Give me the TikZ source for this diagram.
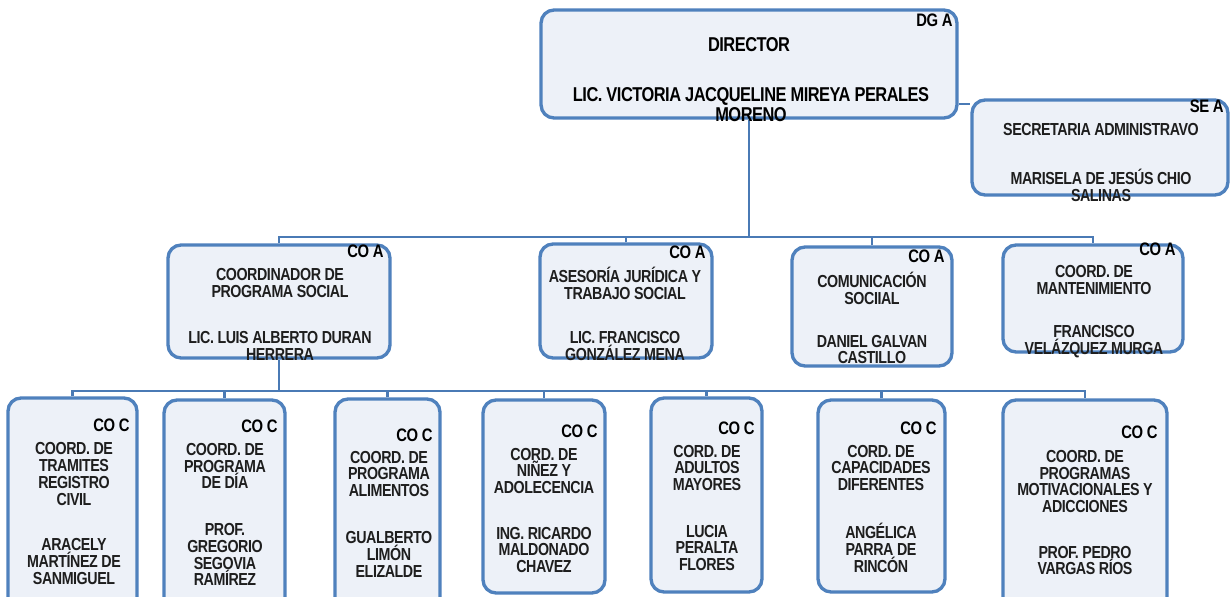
\documentclass[tikz,border=0pt]{standalone}
\usepackage{fontspec}
\setmainfont{Liberation Sans}[FakeStretch=0.82,LetterSpace=-2.5]
\usepackage{tikz}
\definecolor{boxblue}{HTML}{4F81BD}
\definecolor{boxfill}{HTML}{EDF1F8}
\definecolor{linkblue}{HTML}{4A7AB5}
\definecolor{ink}{HTML}{1E1E1E}

\begin{document}
\begin{tikzpicture}[x=0.02cm,y=-0.02cm]
\tikzstyle{box}=[draw=boxblue,line width=1.9pt,fill=boxfill,rounded corners=0.26cm,inner sep=0pt]
\tikzstyle{link}=[draw=linkblue,line width=1.3pt]
\tikzstyle{txt}=[align=center,inner sep=0pt,text=ink,font=\fontsize{9.9}{9.6}\selectfont\bfseries]
\tikzstyle{txtb}=[txt,text=black,font=\fontsize{11.4}{10}\selectfont\bfseries]
\tikzstyle{tag}=[anchor=east,inner sep=0pt,text=black,font=\fontsize{10.3}{9.6}\selectfont\bfseries]
\clip (0,0) rectangle (1231,597);
\fill[white] (0,0) rectangle (1231,597);

\node[box,minimum width=8.32cm,minimum height=2.16cm] (dir) at (749,64) {};
\node[box,minimum width=5.12cm,minimum height=1.9cm] (sec) at (1100,147.5) {};

\node[box,minimum width=4.44cm,minimum height=2.26cm] (coord) at (279,301.5) {};
\node[box,minimum width=3.44cm,minimum height=2.28cm] (ase) at (626,301) {};
\node[box,minimum width=3.2cm,minimum height=2.38cm] (com) at (872,306.5) {};
\node[box,minimum width=3.6cm,minimum height=2.14cm] (mant) at (1093,298.5) {};

\node[box,minimum width=2.58cm,minimum height=4.24cm] (tram) at (72.5,504) {};
\node[box,minimum width=2.42cm,minimum height=4.2cm] (dia) at (224.5,505) {};
\node[box,minimum width=2.1cm,minimum height=4.22cm] (alim) at (387.5,504.5) {};
\node[box,minimum width=2.44cm,minimum height=3.86cm] (nin) at (544,496.5) {};
\node[box,minimum width=2.22cm,minimum height=3.88cm] (adul) at (706.5,495) {};
\node[box,minimum width=2.54cm,minimum height=3.84cm] (capa) at (881.5,496) {};
\node[box,minimum width=3.28cm,minimum height=4.2cm] (moti) at (1085,505) {};

\coordinate (bar2) at (0,237);
\coordinate (bar3) at (0,391);
\coordinate (secy) at (0,104);

\draw[link] (dir.south) -- (dir.south |- bar2);
\draw[link] (dir.east |- secy) -- (sec.west |- secy);
\draw[link] (coord.north) -- (coord.north |- bar2) -| (mant.north);
\foreach \n in {ase,com}
  \draw[link] (\n.north) -- (\n.north |- bar2);
\draw[link] (coord.south) -- (coord.south |- bar3);
\draw[link] (tram.north) -- (tram.north |- bar3) -| (moti.north);
\foreach \n in {dia,alim,nin,adul,capa}
  \draw[link] (\n.north) -- (\n.north |- bar3);

\node[tag] (dirG) at (953,20) {DG A};
\node[txtb] (dirT) at (749,45) {DIRECTOR};
\node[txtb] (dirN) at (751,104.5) {LIC. VICTORIA JACQUELINE MIREYA PERALES\\MORENO};

\node[tag] (secG) at (1224,106) {SE A};
\node[txt] (secT) at (1101,130) {SECRETARIA ADMINISTRAVO};
\node[txt] (secN) at (1101,185) {MARISELA DE JESÚS CHIO\\SALINAS};

\node[tag] (coordG) at (384,251) {CO A};
\node[txt] (coordT) at (280,283) {COORDINADOR DE\\PROGRAMA SOCIAL};
\node[txt] (coordN) at (280,346) {LIC. LUIS ALBERTO DURAN\\HERRERA};

\node[tag] (aseG) at (706,252) {CO A};
\node[txt] (aseT) at (625,283.5) {ASESORÍA JURÍDICA Y\\TRABAJO SOCIAL};
\node[txt] (aseN) at (625,346) {LIC. FRANCISCO\\GONZÁLEZ MENA};

\node[tag] (comG) at (945,256) {CO A};
\node[txt] (comT) at (872,288.5) {COMUNICACIÓN\\SOCIIAL};
\node[txt] (comN) at (872,349.5) {DANIEL GALVAN\\CASTILLO};

\node[tag] (mantG) at (1176,249) {CO A};
\node[txt] (mantT) at (1094,280) {COORD. DE\\MANTENIMIENTO};
\node[txt] (mantN) at (1094,342) {FRANCISCO\\VELÁZQUEZ MURGA};

\node[tag] (tramG) at (130,425) {CO C};
\node[txt] (tramT) at (74,474) {COORD. DE\\TRAMITES\\REGISTRO\\CIVIL};
\node[txt] (tramN) at (74,561.5) {ARACELY\\MARTÍNEZ DE\\SANMIGUEL};

\node[tag] (diaG) at (278,426) {CO C};
\node[txt] (diaT) at (225,466) {COORD. DE\\PROGRAMA\\DE DÍA};
\node[txt] (diaN) at (225,554.5) {PROF.\\GREGORIO\\SEGOVIA\\RAMÍREZ};

\node[tag] (alimG) at (433,435) {CO C};
\node[txt] (alimT) at (389,474) {COORD. DE\\PROGRAMA\\ALIMENTOS};
\node[txt] (alimN) at (389,554.5) {GUALBERTO\\LIMÓN\\ELIZALDE};

\node[tag] (ninG) at (598,431) {CO C};
\node[txt] (ninT) at (544,471) {CORD. DE\\NIÑEZ Y\\ADOLECENCIA};
\node[txt] (ninN) at (544,550) {ING. RICARDO\\MALDONADO\\CHAVEZ};

\node[tag] (adulG) at (755,428) {CO C};
\node[txt] (adulT) at (707,468) {CORD. DE\\ADULTOS\\MAYORES};
\node[txt] (adulN) at (707,548) {LUCIA\\PERALTA\\FLORES};

\node[tag] (capaG) at (937,428) {CO C};
\node[txt] (capaT) at (881,468) {CORD. DE\\CAPACIDADES\\DIFERENTES};
\node[txt] (capaN) at (881,548) {ANGÉLICA\\PARRA DE\\RINCÓN};

\node[tag] (motiG) at (1158,432) {CO C};
\node[txt] (motiT) at (1085,481.5) {COORD. DE\\PROGRAMAS\\MOTIVACIONALES Y\\ADICCIONES};
\node[txt] (motiN) at (1085,560.5) {PROF. PEDRO\\VARGAS RÍOS};
\end{tikzpicture}
\end{document}
